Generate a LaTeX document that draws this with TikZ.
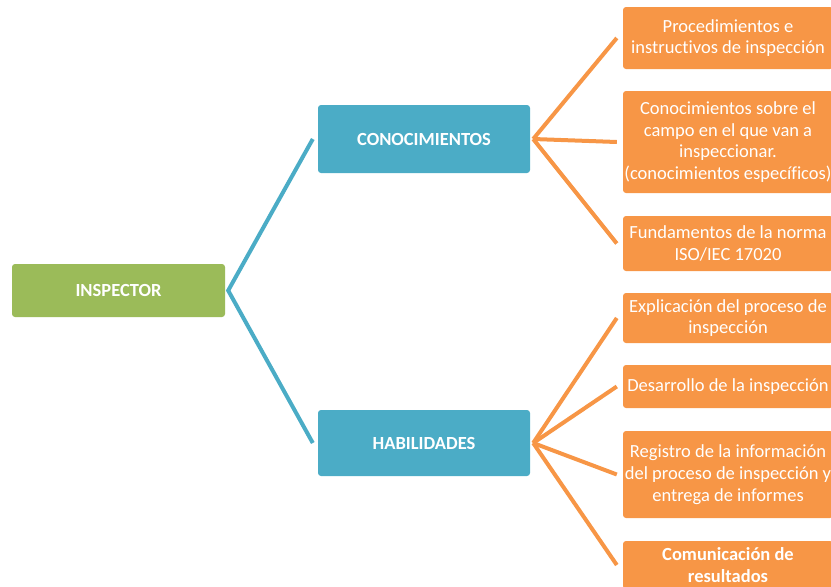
\documentclass[tikz,border=0pt]{standalone}
\usepackage{fontspec}
\setmainfont{Carlito}[Ligatures=NoCommon]
\usetikzlibrary{calc}
\definecolor{cgreen}{HTML}{9BBB59}
\definecolor{cblue}{HTML}{4BACC6}
\definecolor{corange}{HTML}{F79646}
\tikzset{
  box/.style={rounded corners=3pt, inner sep=0pt, align=center, text=white,
    font=\fontsize{18.5}{21.7}\selectfont},
  rootbox/.style={box, fill=cgreen, minimum width=213pt, minimum height=53pt, font=\fontsize{18.5}{21.7}\selectfont\bfseries},
  midbox/.style={box, fill=cblue, minimum width=212pt, font=\fontsize{18.5}{21.7}\selectfont\bfseries},
  leafbox/.style={box, fill=corange, minimum width=210pt},
  blueline/.style={draw=cblue, line width=4pt},
  orangeline/.style={draw=corange, line width=4pt}
}
\begin{document}
\begin{tikzpicture}[x=1pt,y=-1pt]
\useasboundingbox (0,0) rectangle (831,587);
\clip (0,0) rectangle (831,587);
\node[rootbox] (insp) at (118.5,290.5) {INSPECTOR};
\node[midbox, minimum height=68pt] (con) at (424,139) {CONOCIMIENTOS};
\node[midbox, minimum height=66pt] (hab) at (424,443) {HABILIDADES};
\node[leafbox, minimum height=62pt] (o1) at (728,38) {Procedimientos e\\instructivos de inspección};
\node[leafbox, minimum height=102pt] (o2) at (728,142) {Conocimientos sobre el\\campo en el que van a\\inspeccionar.\\(conocimientos específicos)};
\node[leafbox, minimum height=55pt] (o3) at (728,243.5) {Fundamentos de la norma\\ISO/IEC 17020};
\node[leafbox, minimum height=50pt] (o4) at (728,318) {Explicación del proceso de\\inspección};
\node[leafbox, minimum height=43pt] (o5) at (728,386.5) {Desarrollo de la inspección};
\node[leafbox, minimum height=87pt] (o6) at (728,474.5) {Registro de la información\\del proceso de inspección y\\entrega de informes};
\node[leafbox, minimum height=48pt, font=\fontsize{18.5}{21.7}\selectfont\bfseries] (o7) at (728,565) {Comunicación de\\resultados};
\coordinate (ji) at ($(insp.east)+(3,0)$);
\coordinate (jc) at ($(con.east)+(3,0)$);
\coordinate (jh) at ($(hab.east)+(3,0)$);
\draw[blueline] ($(con.west)+(-5,0)$) -- (ji) -- ($(hab.west)+(-5,0)$);
\foreach \n in {o1,o2,o3} \draw[orangeline] (jc) -- ($(\n.west)+(-6,0)$);
\foreach \n in {o4,o5,o6,o7} \draw[orangeline] (jh) -- ($(\n.west)+(-6,0)$);
\end{tikzpicture}
\end{document}
